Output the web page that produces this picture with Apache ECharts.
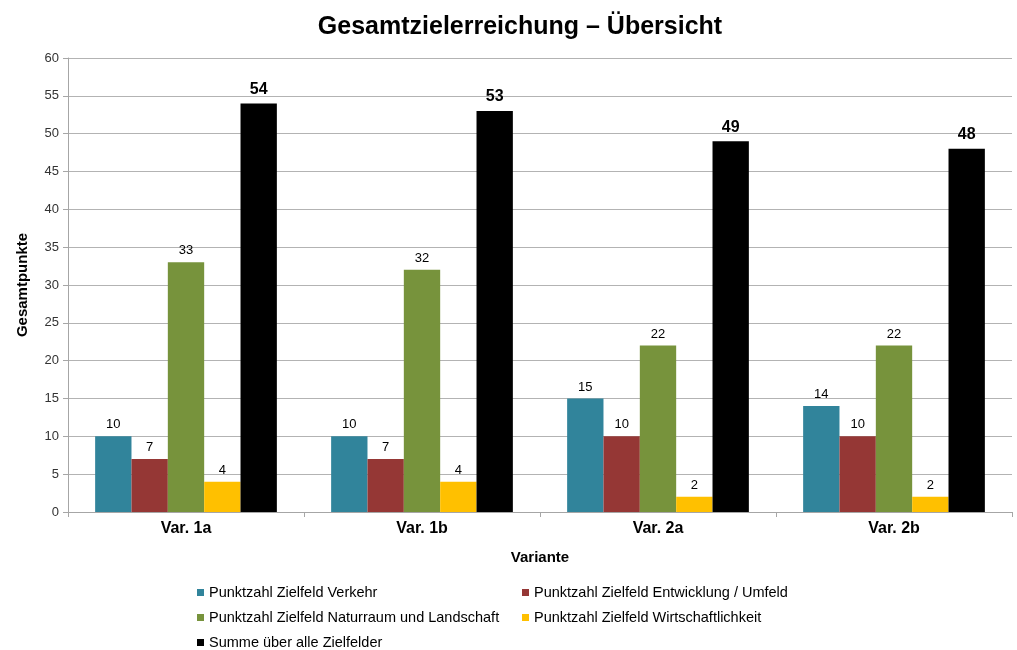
<!DOCTYPE html>
<html>
<head>
<meta charset="utf-8">
<title>Gesamtzielerreichung – Übersicht</title>
<script src="https://cdn.jsdelivr.net/npm/echarts@6/dist/echarts.min.js"></script>
<style>
  html, body { margin: 0; padding: 0; background: #fff; }
  #chart { width: 1017px; height: 650px; }
</style>
</head>
<body>
<div id="chart"></div>
<script>
// Variants (x categories)
const categories = ['Var. 1a', 'Var. 1b', 'Var. 2a', 'Var. 2b'];

// Points per target field
const verkehr = [10, 10, 15, 14];
const entwicklung = [7, 7, 10, 10];
const naturraum = [33, 32, 22, 22];
const wirtschaft = [4, 4, 2, 2];
const summe = [54, 53, 49, 48];

const seriesNames = [
  'Punktzahl Zielfeld Verkehr',
  'Punktzahl Zielfeld Entwicklung / Umfeld',
  'Punktzahl Zielfeld Naturraum und Landschaft',
  'Punktzahl Zielfeld Wirtschaftlichkeit',
  'Summe über alle Zielfelder'
];
const seriesValues = [verkehr, entwicklung, naturraum, wirtschaft, summe];
const colors = ['#31849B', '#953735', '#77933C', '#FFC000', '#000000'];

const fontFamily = 'Liberation Sans, Arial, sans-serif';

const series = seriesNames.map((name, i) => {
  const isSum = i === 4;
  return {
    name: name,
    type: 'bar',
    data: seriesValues[i],
    barGap: '0%',
    barCategoryGap: '23%',
    itemStyle: { color: colors[i] },
    label: {
      show: true,
      position: 'top',
      distance: isSum ? 6 : 5,
      color: '#000',
      fontFamily: fontFamily,
      fontSize: isSum ? 16 : 13,
      fontWeight: isSum ? 'bold' : 'normal'
    }
  };
});

const legendText = { color: '#000', fontFamily: fontFamily, fontSize: 14.5 };

const chart = echarts.init(document.getElementById('chart'), null, { renderer: 'canvas' });
chart.setOption({
  animation: false,
  backgroundColor: '#fff',
  color: colors,
  title: {
    text: 'Gesamtzielerreichung – Übersicht',
    left: 515,
    textAlign: 'center',
    top: 10,
    textStyle: { fontFamily: fontFamily, fontSize: 25, fontWeight: 'bold', color: '#000' }
  },
  legend: [
    {
      data: [seriesNames[0], seriesNames[2], seriesNames[4]],
      orient: 'vertical',
      left: 197,
      top: 585,
      itemWidth: 7,
      itemHeight: 7,
      itemGap: 10,
      icon: 'rect',
      textStyle: legendText,
      padding: 0
    },
    {
      data: [seriesNames[1], seriesNames[3]],
      orient: 'vertical',
      left: 522,
      top: 585,
      itemWidth: 7,
      itemHeight: 7,
      itemGap: 10,
      icon: 'rect',
      textStyle: legendText,
      padding: 0
    }
  ],
  grid: { left: 68, right: 5, top: 58, bottom: 138, containLabel: false },
  xAxis: {
    type: 'category',
    data: categories,
    name: 'Variante',
    nameLocation: 'middle',
    nameGap: 38,
    nameTextStyle: { fontFamily: fontFamily, fontSize: 15, fontWeight: 'bold', color: '#000' },
    axisLine: { lineStyle: { color: '#a6a6a6' } },
    axisTick: { show: true, length: 5, lineStyle: { color: '#a6a6a6' } },
    axisLabel: {
      margin: 9,
      fontFamily: fontFamily, fontSize: 16, fontWeight: 'bold', color: '#000'
    }
  },
  yAxis: {
    type: 'value',
    min: 0,
    max: 60,
    interval: 5,
    name: 'Gesamtpunkte',
    nameLocation: 'middle',
    nameRotate: 90,
    nameGap: 38,
    nameTextStyle: { fontFamily: fontFamily, fontSize: 15, fontWeight: 'bold', color: '#000' },
    axisLine: { show: true, lineStyle: { color: '#a6a6a6' } },
    axisTick: { show: true, length: 5, lineStyle: { color: '#a6a6a6' } },
    axisLabel: { margin: 9, fontFamily: fontFamily, fontSize: 13, color: '#333' },
    splitLine: { show: true, lineStyle: { color: '#b3b3b3', width: 1 } }
  },
  series: series
});
</script>
</body>
</html>
